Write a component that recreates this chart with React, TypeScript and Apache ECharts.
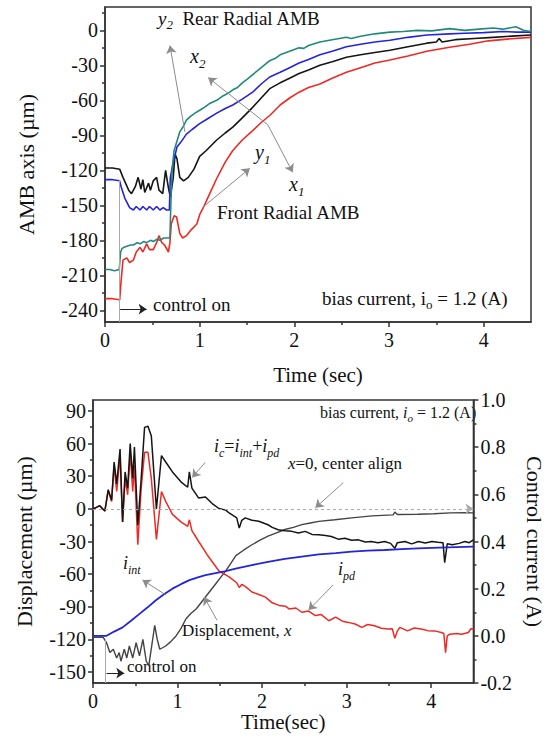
import React, { useEffect, useRef } from "react";
import * as echarts from "echarts";

const FONT = "'Liberation Serif', 'Times New Roman', serif";

// ---------- Top chart: AMB axis (µm) vs Time (sec) ----------
const topXTicks = [0, 1, 2, 3, 4];
const topXMinor = [0.5, 1.5, 2.5, 3.5];
const topYTicks = [-240, -210, -180, -150, -120, -90, -60, -30, 0];
const topYMinor = [-225, -195, -165, -135, -105, -75, -45, -15, 15];

const tealY2: [number, number][] = [
  [0, -205], [0.05, -205], [0.1, -206], [0.15, -205], [0.165, -190], [0.18, -187], [0.2, -186], [0.23, -185],
  [0.27, -184], [0.3, -184], [0.34, -182], [0.37, -183], [0.41, -181], [0.44, -182], [0.48, -180], [0.51, -181],
  [0.55, -179], [0.58, -180], [0.62, -178], [0.67, -178], [0.686, -178], [0.695, -150], [0.71, -118], [0.73, -103],
  [0.76, -95], [0.79, -87], [0.83, -82], [0.86, -77], [0.9, -74], [0.95, -71], [1.0, -68.5], [1.05, -66],
  [1.1, -63], [1.18, -60], [1.25, -56], [1.3, -54], [1.35, -51], [1.4, -49], [1.45, -45], [1.5, -42], [1.56, -38],
  [1.65, -32], [1.74, -26], [1.8, -24], [1.85, -21], [1.95, -18], [2.05, -15], [2.1, -15.5], [2.15, -13], [2.27, -10],
  [2.4, -8], [2.55, -6], [2.6, -7], [2.7, -5], [2.85, -3], [3.01, -1.5], [3.15, -1], [3.3, 0], [3.45, -0.5],
  [3.64, 1.5], [3.8, 0], [3.95, 1], [4.1, 2], [4.2, 1], [4.34, 3], [4.42, 0], [4.5, -1],
];
const blueX2: [number, number][] = [
  [0, -128], [0.08, -128], [0.155, -129], [0.17, -134], [0.21, -144], [0.26, -152], [0.3, -154], [0.33, -151],
  [0.37, -154], [0.4, -151], [0.44, -154], [0.47, -151], [0.51, -154], [0.545, -151], [0.58, -154], [0.615, -152],
  [0.65, -154], [0.68, -154], [0.69, -126], [0.71, -118], [0.74, -107], [0.76, -100], [0.8, -96], [0.86, -89],
  [0.92, -85], [1.0, -80], [1.08, -76], [1.18, -71], [1.27, -67], [1.35, -64], [1.45, -59], [1.56, -53],
  [1.65, -46], [1.74, -40], [1.85, -36], [1.95, -32], [2.05, -28], [2.15, -25], [2.27, -21], [2.4, -18],
  [2.55, -14], [2.7, -12], [2.85, -10], [3.01, -8.5], [3.2, -6], [3.4, -4], [3.64, -3], [3.8, -2.5],
  [4.0, -2], [4.2, -1], [4.35, -1.5], [4.5, -1.5],
];
const blackX1: [number, number][] = [
  [0, -118], [0.08, -118], [0.155, -119], [0.19, -126], [0.25, -137], [0.28, -140], [0.32, -134], [0.35, -126],
  [0.38, -136], [0.4, -128], [0.42, -139], [0.46, -131], [0.48, -137], [0.51, -129], [0.545, -126], [0.57, -137],
  [0.61, -140], [0.64, -120], [0.67, -135], [0.69, -143], [0.72, -127], [0.74, -106], [0.76, -110], [0.79, -126],
  [0.83, -129], [0.88, -126], [0.94, -119], [1.0, -108], [1.07, -103], [1.18, -94], [1.27, -88], [1.35, -83],
  [1.45, -75], [1.56, -66], [1.65, -58], [1.74, -50], [1.85, -45], [1.95, -41], [2.05, -37], [2.15, -34],
  [2.27, -30], [2.4, -27], [2.55, -23], [2.7, -21], [2.85, -19], [3.01, -17], [3.2, -14], [3.4, -11],
  [3.5, -10], [3.53, -7], [3.56, -10], [3.7, -8], [3.9, -7], [4.1, -6], [4.3, -5], [4.5, -4],
];
const redY1: [number, number][] = [
  [0, -230], [0.08, -230], [0.155, -231], [0.17, -215], [0.19, -197], [0.23, -195], [0.26, -199], [0.3, -197],
  [0.33, -190], [0.37, -186], [0.4, -190], [0.44, -183], [0.47, -188], [0.51, -188], [0.545, -182], [0.57, -176],
  [0.6, -182], [0.63, -184], [0.67, -190], [0.686, -182], [0.7, -166], [0.73, -159], [0.756, -160], [0.79, -174],
  [0.82, -178], [0.86, -176], [0.91, -171], [0.97, -166], [1.0, -158], [1.05, -150], [1.1, -141], [1.18, -127],
  [1.27, -113], [1.35, -103], [1.45, -94], [1.56, -86], [1.65, -79], [1.74, -73], [1.85, -64], [1.95, -58],
  [2.05, -53], [2.15, -49], [2.27, -46], [2.4, -41], [2.55, -36], [2.7, -32], [2.85, -28], [3.01, -25.5],
  [3.2, -22], [3.4, -18], [3.64, -14.5], [3.85, -12], [4.05, -9], [4.25, -7.5], [4.5, -6],
];

// ---------- Bottom chart: Displacement (µm) & Control current (A) vs Time(sec) ----------
const botXTicks = [0, 1, 2, 3, 4];
const botXMinor = [0.5, 1.5, 2.5, 3.5];
const botYTicks = [-150, -120, -90, -60, -30, 0, 30, 60, 90];
const botYMinor = [-135, -105, -75, -45, -15, 15, 45, 75];

const dispX: [number, number][] = [
  [0, -118], [0.08, -118], [0.12, -118], [0.16, -123], [0.2, -132], [0.24, -129], [0.28, -137], [0.31, -132],
  [0.33, -140], [0.37, -129], [0.4, -137], [0.43, -126], [0.47, -137], [0.51, -123], [0.55, -135], [0.59, -120],
  [0.63, -140], [0.66, -144], [0.7, -123], [0.73, -107], [0.76, -120], [0.79, -129], [0.86, -126], [0.92, -122],
  [0.98, -117], [1.04, -110], [1.1, -101], [1.16, -96], [1.22, -92], [1.28, -86], [1.33, -81], [1.39, -75],
  [1.45, -69], [1.51, -63], [1.57, -57], [1.63, -50], [1.69, -43], [1.78, -38], [1.88, -33], [1.97, -29],
  [2.07, -25], [2.17, -22], [2.27, -19], [2.37, -17], [2.47, -14.5], [2.57, -13], [2.67, -11.5], [2.86, -10],
  [3.06, -8.3], [3.3, -6.5], [3.55, -5.5], [3.57, -3], [3.6, -5.2], [3.84, -5], [4.03, -4.5], [4.23, -3.7],
  [4.4, -3.5], [4.5, -3.7],
];
const iInt: [number, number][] = [
  [0, 0], [0.16, 0], [0.25, 0.018], [0.35, 0.036], [0.45, 0.064], [0.55, 0.093], [0.65, 0.122], [0.74, 0.15],
  [0.84, 0.176], [0.94, 0.2], [1.04, 0.219], [1.14, 0.236], [1.24, 0.248], [1.33, 0.257], [1.45, 0.266],
  [1.57, 0.274], [1.7, 0.286], [1.88, 0.3], [2.07, 0.314], [2.27, 0.326], [2.47, 0.336], [2.67, 0.345],
  [2.87, 0.351], [3.06, 0.357], [3.25, 0.361], [3.45, 0.364], [3.65, 0.368], [3.84, 0.371], [4.1, 0.374],
  [4.3, 0.376], [4.5, 0.378],
];
const iPd: [number, number][] = [
  [0, 0.538], [0.04, 0.545], [0.08, 0.552], [0.11, 0.54], [0.14, 0.529], [0.18, 0.616], [0.22, 0.57], [0.25, 0.723],
  [0.28, 0.612], [0.32, 0.764], [0.35, 0.483], [0.38, 0.667], [0.41, 0.598], [0.44, 0.778], [0.47, 0.612],
  [0.49, 0.723], [0.53, 0.386], [0.57, 0.626], [0.61, 0.778], [0.65, 0.778], [0.69, 0.667], [0.75, 0.409],
  [0.81, 0.612], [0.86, 0.57], [0.94, 0.515], [1.04, 0.483], [1.12, 0.464], [1.14, 0.492], [1.17, 0.446],
  [1.25, 0.4], [1.35, 0.344], [1.49, 0.275], [1.61, 0.25], [1.7, 0.225], [1.73, 0.205], [1.76, 0.218],
  [1.8, 0.21], [1.88, 0.186], [1.96, 0.175], [2.04, 0.164], [2.12, 0.14], [2.2, 0.129], [2.28, 0.125],
  [2.32, 0.114], [2.4, 0.118], [2.47, 0.1], [2.55, 0.105], [2.63, 0.086], [2.7, 0.09], [2.79, 0.064],
  [2.87, 0.079], [2.95, 0.062], [3.02, 0.057], [3.1, 0.05], [3.18, 0.036], [3.25, 0.048], [3.33, 0.043],
  [3.41, 0.032], [3.49, 0.029], [3.54, 0.03], [3.57, -0.01], [3.6, 0.02], [3.63, 0.036], [3.72, 0.021],
  [3.8, 0.033], [3.88, 0.029], [3.96, 0.022], [4.04, 0.021], [4.12, 0.014], [4.15, 0.01], [4.17, -0.071],
  [4.19, 0.0], [4.22, 0.007], [4.3, 0.01], [4.36, 0.007], [4.44, 0.014], [4.47, 0.03], [4.5, 0.029],
];
const iC: [number, number][] = [
  [0, 0.538], [0.04, 0.545], [0.08, 0.552], [0.11, 0.54], [0.14, 0.529], [0.18, 0.62], [0.22, 0.575], [0.25, 0.737],
  [0.28, 0.644], [0.32, 0.792], [0.35, 0.483], [0.38, 0.695], [0.41, 0.626], [0.44, 0.815], [0.47, 0.667],
  [0.49, 0.801], [0.53, 0.469], [0.57, 0.667], [0.61, 0.884], [0.65, 0.889], [0.69, 0.847], [0.75, 0.538],
  [0.81, 0.764], [0.86, 0.737], [0.94, 0.695], [1.04, 0.653], [1.12, 0.63], [1.14, 0.695], [1.17, 0.626],
  [1.25, 0.584], [1.33, 0.589], [1.41, 0.561], [1.49, 0.54], [1.57, 0.533], [1.61, 0.521], [1.7, 0.5],
  [1.73, 0.457], [1.76, 0.49], [1.8, 0.5], [1.88, 0.49], [1.96, 0.486], [2.07, 0.471], [2.12, 0.46],
  [2.19, 0.45], [2.27, 0.446], [2.35, 0.443], [2.43, 0.436], [2.51, 0.443], [2.59, 0.43], [2.67, 0.429],
  [2.75, 0.425], [2.82, 0.421], [2.9, 0.41], [2.98, 0.414], [3.06, 0.405], [3.14, 0.407], [3.22, 0.398],
  [3.29, 0.4], [3.37, 0.395], [3.45, 0.4], [3.52, 0.392], [3.57, 0.371], [3.6, 0.395], [3.69, 0.4],
  [3.77, 0.39], [3.85, 0.4], [3.93, 0.394], [4.01, 0.4], [4.08, 0.397], [4.14, 0.395], [4.16, 0.31],
  [4.19, 0.39], [4.25, 0.386], [4.33, 0.392], [4.4, 0.4], [4.45, 0.395], [4.5, 0.407],
];

// annotation pointers (data coordinates)
const topPointers: [[number, number], [number, number]][] = [
  [[0.844, -87], [0.686, -13]],
  [[1.72, -81], [1.09, -40.5]],
  [[1.72, -81], [1.983, -121.7]],
  [[1.037, -151.4], [1.53, -118.3]],
];
const topControlLine: [[number, number], [number, number]] = [[0.148, -128], [0.148, -250]];
const topControlArrow: [[number, number], [number, number]] = [[0.16, -239], [0.44, -239]];

const botPointers: [[number, number], [number, number]][] = [
  [[1.327, 42.7], [1.173, 28.8]],
  [[2.96, 24.1], [2.63, 0.9]],
  [[0.864, -79.2], [0.585, -65.3]],
  [[2.84, -69.9], [2.55, -93]],
  [[1.467, -102.4], [1.314, -81]],
];
const botControlLine: [[number, number], [number, number]] = [[0.15, -120], [0.15, -160]];
const botControlArrow: [[number, number], [number, number]] = [[0.16, -151], [0.37, -151]];

const AX = { color: "#333", width: 1.5 };
const LBL = { fontFamily: FONT, fontSize: 20, color: "#111" };

function valueAxis(extra: any) {
  return {
    type: "value",
    splitLine: { show: false },
    axisLine: { onZero: false, lineStyle: AX },
    ...extra,
  };
}

function minorAxis(gridIndex: number, position: string, min: number, max: number, values: number[]) {
  return {
    type: "value",
    gridIndex,
    position,
    min,
    max,
    splitLine: { show: false },
    axisLine: { show: false, onZero: false },
    axisLabel: { show: false },
    axisTick: { show: true, customValues: values, length: 3, lineStyle: AX },
  };
}

function line(name: string, xi: number, yi: number, data: [number, number][], color: string, width: number, extra: any = {}) {
  return {
    type: "line",
    name,
    xAxisIndex: xi,
    yAxisIndex: yi,
    data,
    symbol: "none",
    showSymbol: false,
    silent: true,
    lineStyle: { color, width },
    itemStyle: { color },
    ...extra,
  };
}

function pointerItems(pairs: [[number, number], [number, number]][], color: string) {
  return pairs.map(([a, b]) => [
    { coord: a, symbol: "none", lineStyle: { color, width: 1, type: "solid" } },
    { coord: b, symbol: "arrow", lineStyle: { color, width: 1, type: "solid" } },
  ]);
}

const rich = (size: number, sub: number) => ({
  n: { fontFamily: FONT, fontSize: size, lineHeight: size + 7, fill: "#111" },
  i: { fontFamily: FONT, fontSize: size, fontStyle: "italic", lineHeight: size + 7, fill: "#111" },
  s: { fontFamily: FONT, fontSize: sub, fontStyle: "italic", lineHeight: sub, verticalAlign: "bottom", fill: "#111" },
  r: { fontFamily: FONT, fontSize: sub, lineHeight: sub, verticalAlign: "bottom", fill: "#111" },
});

function label(text: string, x: number, y: number, size = 19, sub = 13) {
  return {
    type: "text",
    x,
    y,
    silent: true,
    style: {
      text,
      verticalAlign: "middle",
      align: "left",
      fontFamily: FONT,
      fontSize: size,
      fill: "#111",
      rich: rich(size, sub),
    },
  };
}

export default function App() {
  const ref = useRef<HTMLDivElement>(null);
  useEffect(() => {
    if (!ref.current) return;
    const chart = echarts.init(ref.current, null, { renderer: "svg" });
    const option: any = {
      animation: false,
      backgroundColor: "#fff",
      grid: [
        { left: 105, top: 7, width: 426, height: 315, show: true, borderColor: "#333", borderWidth: 1.5, backgroundColor: "transparent" },
        { left: 93, top: 400, width: 382, height: 283, show: true, borderColor: "#333", borderWidth: 1.5, backgroundColor: "transparent" },
      ],
      xAxis: [
        valueAxis({
          gridIndex: 0, position: "bottom", min: 0, max: 4.5,
          axisTick: { customValues: topXTicks, length: 5, lineStyle: AX },
          axisLabel: { ...LBL, customValues: topXTicks, margin: 8 },
          name: "Time (sec)", nameLocation: "middle", nameGap: 42,
          nameTextStyle: { fontFamily: FONT, fontSize: 21, color: "#111" },
        }),
        minorAxis(0, "bottom", 0, 4.5, topXMinor),
        valueAxis({
          gridIndex: 1, position: "bottom", min: 0, max: 4.5,
          axisTick: { customValues: botXTicks, length: 5, lineStyle: AX },
          axisLabel: { ...LBL, customValues: botXTicks, margin: 8 },
          name: "Time(sec)", nameLocation: "middle", nameGap: 27,
          nameTextStyle: { fontFamily: FONT, fontSize: 21, color: "#111" },
        }),
        minorAxis(1, "bottom", 0, 4.5, botXMinor),
      ],
      yAxis: [
        valueAxis({
          gridIndex: 0, position: "left", min: -250, max: 20,
          axisTick: { customValues: topYTicks, length: 5, lineStyle: AX },
          axisLabel: { ...LBL, customValues: topYTicks, margin: 7 },
          name: "AMB axis (µm)", nameLocation: "middle", nameGap: 68,
          nameTextStyle: { fontFamily: FONT, fontSize: 22, color: "#111" },
        }),
        minorAxis(0, "left", -250, 20, topYMinor),
        valueAxis({
          gridIndex: 1, position: "left", min: -160, max: 100,
          axisTick: { customValues: botYTicks, length: 5, lineStyle: AX },
          axisLabel: { ...LBL, customValues: botYTicks, margin: 7 },
          name: "Displacement (µm)", nameLocation: "middle", nameGap: 58,
          nameTextStyle: { fontFamily: FONT, fontSize: 22, color: "#111" },
        }),
        minorAxis(1, "left", -160, 100, botYMinor),
        valueAxis({
          gridIndex: 1, position: "right", min: -0.2, max: 1.0, interval: 0.2,
          axisTick: { length: 5, lineStyle: AX },
          minorTick: { show: true, splitNumber: 2, length: 3, lineStyle: AX },
          minorSplitLine: { show: false },
          axisLabel: { ...LBL, margin: 7, formatter: (v: number) => v.toFixed(1) },
          name: "Control current (A)", nameLocation: "middle", nameGap: 46, nameRotate: -90,
          nameTextStyle: { fontFamily: FONT, fontSize: 22, color: "#111" },
        }),
      ],
      series: [
        line("y1", 0, 0, redY1, "#ee2a24", 1.6, {
          markLine: {
            silent: true,
            symbolSize: 8,
            label: { show: false },
            emphasis: { disabled: true },
            data: [
              ...pointerItems(topPointers, "#8c8c8c"),
              [
                { coord: topControlLine[0], symbol: "none", lineStyle: { color: "#aaa", width: 1, type: "solid" } },
                { coord: topControlLine[1], symbol: "none", lineStyle: { color: "#aaa", width: 1, type: "solid" } },
              ],
              ...pointerItems([topControlArrow], "#222"),
            ],
          },
        }),
        line("x1", 0, 0, blackX1, "#151515", 1.6),
        line("x2", 0, 0, blueX2, "#2424e0", 1.6),
        line("y2", 0, 0, tealY2, "#22897a", 1.6),
        line("Displacement, x", 2, 2, dispX, "#444", 1.4, {
          markLine: {
            silent: true,
            symbolSize: 8,
            label: { show: false },
            emphasis: { disabled: true },
            data: [
              { yAxis: 0, symbol: "none", lineStyle: { color: "#aaa", width: 1, type: [3, 3] } },
              ...pointerItems(botPointers, "#8c8c8c"),
              [
                { coord: botControlLine[0], symbol: "none", lineStyle: { color: "#aaa", width: 1, type: "solid" } },
                { coord: botControlLine[1], symbol: "none", lineStyle: { color: "#aaa", width: 1, type: "solid" } },
              ],
              ...pointerItems([botControlArrow], "#222"),
            ],
          },
        }),
        line("i_pd", 2, 4, iPd, "#ee2a24", 1.5),
        line("i_c", 2, 4, iC, "#151515", 1.5),
        line("i_int", 2, 4, iInt, "#2424d8", 1.8),
      ],
      graphic: [
        label("{i|y}{s|2}{n|  Rear Radial AMB}", 158, 18, 19, 13),
        label("{i|x}{s|2}", 190, 56, 20, 13),
        label("{i|x}{s|1}", 289, 184, 20, 13),
        label("{i|y}{s|1}", 255, 152, 20, 13),
        label("{n|Front Radial AMB}", 217, 212, 19, 13),
        label("{n|control on}", 153, 304, 19, 13),
        label("{n|bias current, i}{r|o}{n| = 1.2 (A)}", 322, 298, 19, 13),
        label("{n|bias current, }{i|i}{s|o}{n| = 1.2 (A)}", 320, 412, 16, 11),
        label("{i|i}{s|c}{n|=}{i|i}{s|int}{n|+}{i|i}{s|pd}", 214, 446, 18, 12),
        label("{i|x}{n|=0, center align}", 288, 463, 17, 12),
        label("{i|i}{s|int}", 123, 563, 18, 12),
        label("{i|i}{s|pd}", 338, 569, 18, 12),
        label("{n|Displacement, }{i|x}", 182, 630, 17, 12),
        label("{n|control on}", 127, 666, 17, 12),
      ],
    };
    chart.setOption(option);
    return () => chart.dispose();
  }, []);
  return <div ref={ref} style={{ position: "fixed", left: 0, top: 0, width: 553, height: 743, background: "#fff" }} />;
}
